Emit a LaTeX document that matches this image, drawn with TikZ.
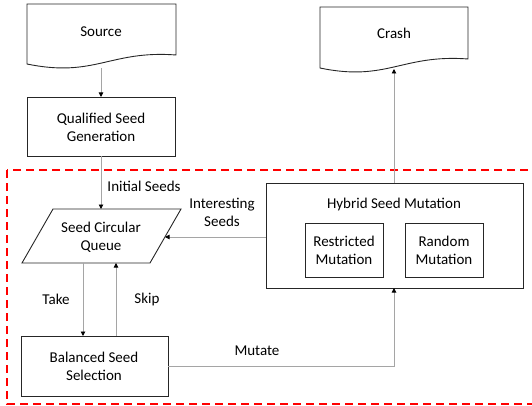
\documentclass[tikz,border=0pt]{standalone}
\usepackage{fontspec}
\setmainfont{Carlito}
\usetikzlibrary{arrows.meta}
\definecolor{conn}{HTML}{A5A5A5}
\definecolor{edge}{HTML}{262626}
\tikzset{
  shapeline/.style={draw=edge, line width=0.9pt},
  lbl/.style={font=\fontsize{15}{18}\selectfont, align=center, inner sep=0pt, text=black},
  conline/.style={draw=conn, line width=0.9pt, -{Triangle[width=4.5pt,length=4.5pt,color=black]}},
  regionbox/.style={draw=red, line width=1.6pt, dash pattern=on 8pt off 5pt}
}
\begin{document}
\begin{tikzpicture}[x=1pt,y=-1pt]
\useasboundingbox (0,0) rectangle (532,406);
\begin{scope}
\clip (0,0) rectangle (532,406);
\draw[regionbox] (7,170) rectangle (560,404);
\end{scope}
% Source document
\draw[shapeline] (27,4) -- (176,4) -- (176,55) .. controls (110,50) and (95,78) .. (27,64) -- cycle;
\node[lbl] (source) at (101,32) {Source};
\coordinate (sourceB) at (101,68);
% Crash document
\draw[shapeline] (320,7) -- (468,7) -- (468,59) .. controls (402,54) and (387,82) .. (320,68) -- cycle;
\node[lbl] (crash) at (394,33) {Crash};
\coordinate (crashB) at (394,69);
% Qualified Seed Generation
\draw[shapeline] (27,97) rectangle (175,156);
\node[lbl] (qsg) at (101,127) {Qualified Seed\\Generation};
\coordinate (qsgT) at (101,97);
\coordinate (qsgB) at (101,156);
% Seed circular queue
\draw[shapeline] (53,209) -- (181,209) -- (150,263) -- (22,263) -- cycle;
\node[lbl] (scq) at (101,237) {Seed Circular\\Queue};
\coordinate (scqT) at (101,209);
\coordinate (scqR) at (165,237);
\coordinate (scqTake) at (83,263);
\coordinate (scqSkip) at (116,263);
% Balanced seed selection
\draw[shapeline] (21,336) rectangle (168,396);
\node[lbl] (bss) at (94,366) {Balanced Seed\\Selection};
\coordinate (bssTake) at (83,336);
\coordinate (bssSkip) at (116,336);
\coordinate (bssR) at (168,366);
% Hybrid seed mutation
\draw[shapeline] (266,183) rectangle (523,288);
\node[lbl] (hsm) at (394,205) {Hybrid Seed Mutation};
\coordinate (hsmT) at (394,183);
\coordinate (hsmB) at (394,288);
\coordinate (hsmL) at (266,237);
\draw[shapeline] (305,223) rectangle (383,277);
\node[lbl] (rest) at (344,250) {Restricted\\Mutation};
\draw[shapeline] (405,223) rectangle (483,277);
\node[lbl] (rand) at (444,250) {Random\\Mutation};
% connectors
\draw[conline] (sourceB) -- (qsgT);
\draw[conline] (qsgB) -- (scqT);
\draw[conline] (hsmL) -- (scqR);
\draw[conline] (scqTake) -- (bssTake);
\draw[conline] (bssSkip) -- (scqSkip);
\draw[conline] (bssR) -| (hsmB);
\draw[conline] (hsmT) -- (crashB);
% labels
\node[lbl] (linit) at (144,186) {Initial Seeds};
\node[lbl] (lint) at (222,212) {Interesting\\Seeds};
\node[lbl] (ltake) at (56,299) {Take};
\node[lbl] (lskip) at (147,299) {Skip};
\node[lbl] (lmut) at (257,351) {Mutate};
\end{tikzpicture}
\end{document}
